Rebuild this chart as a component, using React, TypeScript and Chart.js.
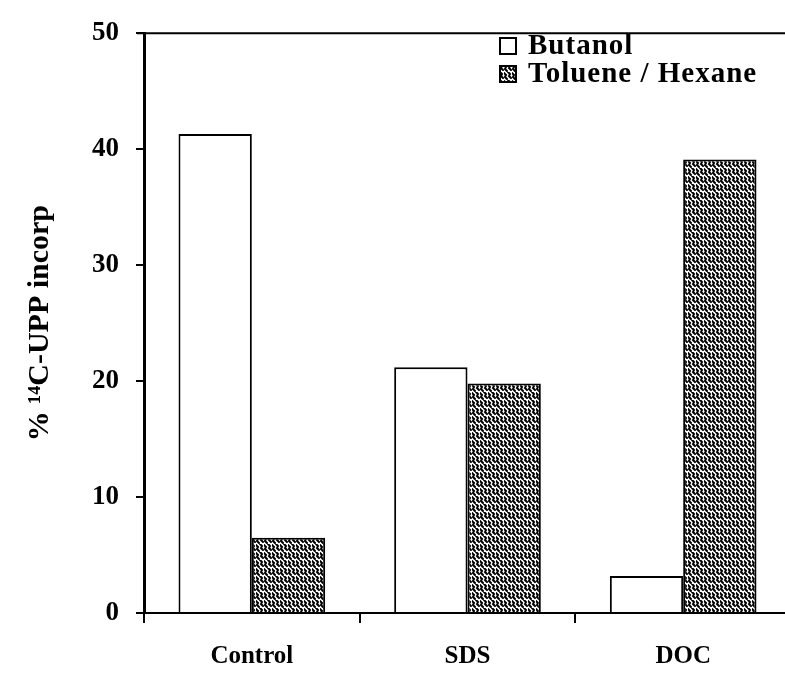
import React, { useEffect, useRef } from "react";
import { Chart, registerables } from "chart.js";

Chart.register(...registerables);

const categories = ["Control", "SDS", "DOC"];
const butanolValues = [41.3, 21.2, 3.2];
const tolueneHexaneValues = [6.5, 19.8, 39.1];
const yTicks = [0, 10, 20, 30, 40, 50];
const seriesNames = ["Butanol", "Toluene / Hexane"];
const yTitle = "% \u00B9\u2074C-UPP incorp";

const FONT = "'Liberation Serif', 'Times New Roman', serif";

function makePattern(): CanvasPattern | string {
  const c = document.createElement("canvas");
  c.width = 8;
  c.height = 8;
  const g = c.getContext("2d");
  if (!g) return "#777";
  g.fillStyle = "#fff";
  g.fillRect(0, 0, 8, 8);
  g.strokeStyle = "#000";
  g.lineWidth = 2;
  g.lineCap = "round";
  g.beginPath();
  g.moveTo(0, 1);
  g.lineTo(2, 3);
  g.lineTo(1, 5);
  g.lineTo(3, 7);
  g.moveTo(4, 0);
  g.lineTo(6, 2);
  g.lineTo(5, 4);
  g.lineTo(7, 6);
  g.stroke();
  const p = g.createPattern(c, "repeat");
  return p || "#777";
}

const frameAndLegend = {
  id: "frameAndLegend",
  afterDraw(chart: any) {
    const { ctx, chartArea } = chart;
    ctx.save();
    // top frame line
    ctx.strokeStyle = "#000";
    ctx.lineWidth = 2;
    ctx.beginPath();
    ctx.moveTo(chartArea.left - 7, chartArea.top);
    ctx.lineTo(chart.width, chartArea.top);
    ctx.stroke();
    // legend
    const ds = chart.data.datasets;
    const boxX = 500;
    const rows = [46, 74];
    ctx.font = `bold 29px ${FONT}`;
    try {
      (ctx as any).letterSpacing = "1px";
    } catch (e) {}
    ctx.textBaseline = "middle";
    ctx.textAlign = "left";
    ds.forEach((d: any, i: number) => {
      const cy = rows[i];
      ctx.fillStyle = d.backgroundColor;
      ctx.fillRect(boxX, cy - 8, 16, 16);
      ctx.lineWidth = 2;
      ctx.strokeStyle = "#000";
      ctx.strokeRect(boxX, cy - 8, 16, 16);
      ctx.fillStyle = "#000";
      ctx.fillText(d.label, boxX + 28, cy + 1);
    });
    ctx.restore();
  },
};

export default function App() {
  const ref = useRef<HTMLCanvasElement | null>(null);
  useEffect(() => {
    if (!ref.current) return;
    const pattern = makePattern();
    const chart = new Chart(ref.current, {
      type: "bar",
      data: {
        labels: categories,
        datasets: [
          {
            label: seriesNames[0],
            data: butanolValues,
            backgroundColor: "#ffffff",
            borderColor: "#000",
            borderWidth: 2,
            categoryPercentage: 0.68,
            barPercentage: 1,
          },
          {
            label: seriesNames[1],
            data: tolueneHexaneValues,
            backgroundColor: pattern as any,
            borderColor: "#000",
            borderWidth: 2,
            categoryPercentage: 0.68,
            barPercentage: 1,
          },
        ],
      },
      options: {
        animation: false,
        responsive: false,
        maintainAspectRatio: false,
        layout: { padding: { top: 24, right: 0, left: 0, bottom: 0 } },
        plugins: {
          legend: { display: false },
          tooltip: { enabled: false },
        },
        scales: {
          x: {
            grid: {
              display: true,
              drawOnChartArea: false,
              drawTicks: true,
              tickLength: 10,
              offset: true,
              color: "#000",
              lineWidth: 2,
            },
            border: { display: true, color: "#000", width: 2 },
            ticks: {
              color: "#000",
              font: { family: FONT, size: 25, weight: "bold" },
              padding: 19,
            },
            afterFit(scale: any) {
              scale.height = 69;
            },
          },
          y: {
            min: 0,
            max: 50,
            afterBuildTicks(scale: any) {
              scale.ticks = yTicks.map((v) => ({ value: v }));
            },
            grid: {
              display: true,
              drawOnChartArea: false,
              drawTicks: true,
              tickLength: 8,
              color: "#000",
              lineWidth: 2,
            },
            border: { display: true, color: "#000", width: 3 },
            ticks: {
              color: "#000",
              font: { family: FONT, size: 27, weight: "bold" },
              padding: 17,
            },
            title: {
              display: true,
              text: yTitle,
              color: "#000",
              font: { family: FONT, size: 30, weight: "bold" },
              padding: { top: 22, bottom: 0 },
            },
            afterFit(scale: any) {
              scale.width = 144;
            },
          },
        },
      },
      plugins: [frameAndLegend],
    });
    return () => chart.destroy();
  }, []);
  return (
    <div
      style={{
        position: "fixed",
        left: 0,
        top: 0,
        width: 785,
        height: 682,
        overflow: "hidden",
        background: "#fff",
      }}
    >
      <canvas ref={ref} width={791} height={682} style={{ width: 791, height: 682, display: "block" }} />
    </div>
  );
}
